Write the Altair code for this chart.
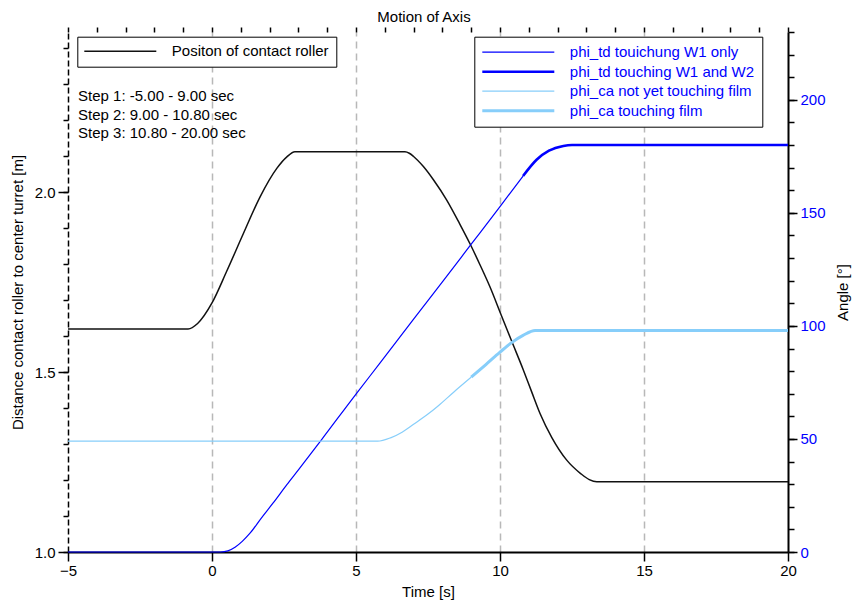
import altair as alt
import pandas as pd

FONT = "Liberation Sans"

# ---------------- texts ----------------
title_text = "Motion of Axis"
x_title = "Time [s]"
yl_title = "Distance contact roller to center turret [m]"
yr_title = "Angle [°]"

black_name = "Positon of contact roller"
series_names = [
    "phi_td touichung W1 only",
    "phi_td touching W1 and W2",
    "phi_ca not yet touching film",
    "phi_ca touching film",
]
series_colors = ["#0000ff", "#0000ff", "#87cefa", "#87cefa"]
series_widths = [1.2, 2.6, 1.2, 3.0]

# step phases [s]
step_start = [-5.0, 9.0, 10.8]
step_end = [9.0, 10.8, 20.0]
step_text_t = -4.65
step_text_y = [2.267, 2.214, 2.164]

# ---------------- data ----------------
# position of contact roller [m] (left axis)
black_t = [-5, -0.83, -0.5, 0, 0.51, 1.09, 1.67, 2.25, 2.6, 2.88, 6.70, 6.85, 7.0, 7.34,
           7.7, 8.15, 8.6, 8.98, 9.3, 9.65, 10.02, 10.39, 10.81, 11.1, 11.39, 11.8,
           12.31, 12.8, 13.1, 13.36, 20]
black_d = [1.62, 1.62, 1.635, 1.692, 1.78, 1.885, 1.987, 2.066, 2.098, 2.112, 2.112,
           2.108, 2.099, 2.071, 2.033, 1.978, 1.912, 1.853, 1.799, 1.737, 1.663, 1.589,
           1.506, 1.445, 1.385, 1.318, 1.256, 1.218, 1.201, 1.195, 1.195]

# phi_td [deg] (right axis)
td_t = [-5, 0.3, 0.55, 0.8, 1.05, 1.32, 1.7, 2.13, 2.6, 3.0, 3.8, 5.02, 5.83, 7.0,
        8.0, 8.98, 10.02, 10.8, 11.27, 11.7, 12.2, 12.5, 20]
td_a = [0, 0, 0.5, 2.1, 4.7, 8.3, 14.8, 21.8, 29.8, 36.3, 49.6, 70.2, 83.5, 103,
        119.5, 135.8, 153.1, 166.3, 173.5, 177.5, 179.6, 180, 180]

# phi_ca [deg] (right axis)
ca_t = [-5, 5.75, 6.2, 6.6, 7.0, 7.5, 7.85, 8.4, 9.0, 9.5, 10.0, 10.39, 10.8, 11.22, 20]
ca_a = [49, 49, 50.5, 53, 56.5, 61, 64.6, 70.8, 77.3, 82.8, 88.4, 92.5, 95.8, 98, 98]

# axis ticks
x_major_vals = [-5, 0, 5, 10, 15, 20]
x_minor_vals = list(range(-5, 21))
x_grid_vals = [0, 5, 10, 15]
yl_major_vals = [1.0, 1.5, 2.0]
yl_minor_vals = [round(1.0 + 0.1 * i, 1) for i in range(15)]
yr_major_vals = [0, 50, 100, 150, 200]
yr_minor_vals = list(range(0, 231, 10))

x_dom = [-5, 20]
yl_dom = [1.0, 2.445]
yr_dom = [0, 230]

# ---------------- tables ----------------
black_df = pd.DataFrame({"t": black_t, "d": black_d, "name": black_name})

rows = []
for t, a in zip(td_t, td_a):
    if t <= step_start[2]:
        rows.append({"t": t, "a": a, "series": series_names[0]})
    if t >= step_start[2]:
        rows.append({"t": t, "a": a, "series": series_names[1]})
for t, a in zip(ca_t, ca_a):
    if t <= step_start[1]:
        rows.append({"t": t, "a": a, "series": series_names[2]})
    if t >= step_start[1]:
        rows.append({"t": t, "a": a, "series": series_names[3]})
blue_df = pd.DataFrame(rows)

step_df = pd.DataFrame({
    "t": [step_text_t] * 3,
    "y": step_text_y,
    "label": [f"Step {i + 1}: {a:.2f} - {b:.2f} sec"
              for i, (a, b) in enumerate(zip(step_start, step_end))],
})


def xscale():
    return alt.Scale(domain=x_dom, nice=False, zero=False)


def ylscale():
    return alt.Scale(domain=yl_dom, nice=False, zero=False)


def yrscale():
    return alt.Scale(domain=yr_dom, nice=False, zero=False)


lab = dict(labelFont=FONT, labelFontSize=15, labelFontWeight="normal")
ttl = dict(titleFont=FONT, titleFontSize=15, titleFontWeight="normal", titleColor="black")

x_major = alt.Axis(values=x_major_vals, title=x_title, grid=False, tickSize=9,
                   tickColor="black", tickWidth=1.5, domainColor="black", domainWidth=2,
                   labelColor="black", labelPadding=2, labelFlush=False, titlePadding=6,
                   **lab, **ttl)
x_minor = alt.Axis(values=x_minor_vals, title=None, labels=False, domain=False,
                   grid=False, tickSize=5, tickColor="black", tickWidth=1.5)
x_grid = alt.Axis(values=x_grid_vals, title=None, labels=False, domain=False, ticks=False,
                  grid=True, gridDash=[7, 5], gridColor="#b8b8b8", gridWidth=1.5)

yl_major = alt.Axis(orient="left", values=yl_major_vals, format=".1f", title=yl_title,
                    grid=False, tickSize=10, tickColor="black", tickWidth=1.5,
                    domainColor="black", domainWidth=1.5, domainDash=[6, 3],
                    labelColor="black", labelPadding=3, titlePadding=9, **lab, **ttl)
yl_minor = alt.Axis(orient="left", values=yl_minor_vals, title=None, labels=False,
                    domain=False, grid=False, tickSize=5, tickColor="black", tickWidth=1.5)

yr_major = alt.Axis(orient="right", values=yr_major_vals, title=yr_title, grid=False,
                    tickSize=9, tickColor="black", tickWidth=1.5, domainColor="black",
                    domainWidth=2, labelColor="#0000ff", labelPadding=3,
                    titleAngle=270, titleBaseline="top", titlePadding=10, **lab, **ttl)
yr_minor = alt.Axis(orient="right", values=yr_minor_vals, title=None, labels=False,
                    domain=False, grid=False, tickSize=6, tickColor="black", tickWidth=1.5)

legend_common = dict(
    orient="none", title=None, symbolType="M-18,0H18", symbolSize=16,
    symbolOffset=28.5, labelOffset=44, labelFont=FONT, labelFontSize=15,
    labelLimit=400, strokeColor="black", fillColor="white", cornerRadius=0,
    rowPadding=3.5,
)
black_legend = alt.Legend(legendX=9.3, legendY=4.7, labelColor="black", padding=7,
                          symbolStrokeWidth=1.5, **legend_common)
blue_legend = alt.Legend(legendX=406.3, legendY=4.7, labelColor="#0000ff", padding=8,
                         **legend_common)

black_line = alt.Chart(black_df).mark_line(interpolate="monotone", strokeWidth=1.5).encode(
    x=alt.X("t:Q", scale=xscale(), axis=x_major),
    y=alt.Y("d:Q", scale=ylscale(), axis=yl_major),
    stroke=alt.Stroke("name:N", scale=alt.Scale(domain=[black_name], range=["#111111"]),
                      legend=black_legend),
)

left_minor = alt.Chart(black_df).mark_line(strokeOpacity=0).encode(
    x=alt.X("t:Q", scale=xscale(), axis=x_minor),
    y=alt.Y("d:Q", scale=ylscale(), axis=yl_minor),
)

steps = alt.Chart(step_df).mark_text(align="left", baseline="middle", font=FONT,
                                     fontSize=15, color="black").encode(
    x=alt.X("t:Q", scale=xscale(), axis=x_grid),
    y=alt.Y("y:Q", scale=ylscale(), axis=None),
    text="label:N",
)

blue_lines = alt.Chart(blue_df).mark_line(interpolate="monotone").encode(
    x=alt.X("t:Q", scale=xscale(), axis=None),
    y=alt.Y("a:Q", scale=yrscale(), axis=yr_major),
    color=alt.Color("series:N", scale=alt.Scale(domain=series_names, range=series_colors),
                    legend=blue_legend),
    strokeWidth=alt.StrokeWidth("series:N",
                                scale=alt.Scale(type="ordinal", domain=series_names,
                                                range=series_widths),
                                legend=blue_legend),
)

right_minor = alt.Chart(blue_df).mark_line(strokeOpacity=0).encode(
    x=alt.X("t:Q", scale=xscale(), axis=None),
    y=alt.Y("a:Q", scale=yrscale(), axis=yr_minor),
    detail="series:N",
)

chart = alt.layer(black_line, left_minor, steps, blue_lines, right_minor).resolve_scale(
    x="independent", y="independent"
).properties(
    width=720,
    height=520,
    title=alt.TitleParams(title_text, font=FONT, fontSize=15, fontWeight="normal",
                          color="black", anchor="middle", frame="group", offset=1, dx=-4),
    padding={"left": 60, "top": 24, "right": 64, "bottom": 50},
    autosize=alt.AutoSizeParams(type="none"),
).configure_view(stroke=None)

chart.save("out.html", embed_options={"renderer": "svg", "actions": False})
